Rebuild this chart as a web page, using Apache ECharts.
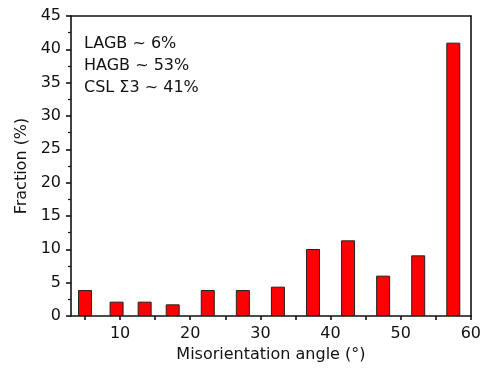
<!DOCTYPE html>
<html>
<head>
<meta charset="utf-8">
<script src="https://cdn.jsdelivr.net/npm/echarts@6/dist/echarts.min.js"></script>
<style>html,body{margin:0;padding:0;background:#fff;}#c{width:484px;height:372px;}</style>
</head>
<body>
<div id="c"></div>
<script>
const angles = [5, 9.5, 13.5, 17.5, 22.5, 27.5, 32.5, 37.5, 42.5, 47.5, 52.5, 57.5];
const fractions = [3.9, 2.15, 2.15, 1.75, 3.9, 3.9, 4.4, 10.05, 11.35, 6.05, 9.1, 41.0];
const xTickLabels = [10, 20, 30, 40, 50, 60];
const xTickMarks = [5, 10, 15, 20, 25, 30, 35, 40, 45, 50, 55, 60];
const annotations = ['LAGB ~ 6%', 'HAGB ~ 53%', 'CSL \u03A33 ~ 41%'];
const xName = 'Misorientation angle (\u00B0)';
const yName = 'Fraction (%)';

const FONT = 'DejaVu Sans';
const lineStyle = { color: '#111', width: 1.6 };
const chart = echarts.init(document.getElementById('c'));
chart.setOption({
  animation: false,
  backgroundColor: '#fff',
  grid: { left: 71, right: 10, top: 16, bottom: 56 },
  xAxis: [{
    type: 'value', min: 3, max: 60, position: 'bottom',
    name: xName, nameLocation: 'middle', nameGap: 22,
    nameTextStyle: { fontFamily: FONT, fontSize: 16, color: '#111' },
    axisLine: { show: true, onZero: false, lineStyle: lineStyle },
    axisTick: { show: true, inside: false, length: 4, customValues: xTickMarks, lineStyle: lineStyle },
    axisLabel: { show: true, margin: 10, customValues: xTickLabels, fontFamily: FONT, fontSize: 16, color: '#111' },
    splitLine: { show: false }
  }, {
    type: 'value', min: 3, max: 60, position: 'top',
    axisLine: { show: true, onZero: false, lineStyle: lineStyle },
    axisTick: { show: false }, axisLabel: { show: false }, splitLine: { show: false }
  }],
  yAxis: [{
    type: 'value', min: 0, max: 45, interval: 5, position: 'left',
    name: yName, nameLocation: 'middle', nameGap: 39,
    nameTextStyle: { fontFamily: FONT, fontSize: 16, color: '#111' },
    axisLine: { show: true, onZero: false, lineStyle: lineStyle },
    axisTick: { show: true, inside: false, length: 5, lineStyle: lineStyle },
    minorTick: { show: true, splitNumber: 2, length: 3, lineStyle: { color: '#111', width: 1.2 } },
    axisLabel: { margin: 10, fontFamily: FONT, fontSize: 16, color: '#111' },
    splitLine: { show: false }
  }, {
    type: 'value', min: 0, max: 45, interval: 5, position: 'right',
    axisLine: { show: true, onZero: false, lineStyle: lineStyle },
    axisTick: { show: false }, axisLabel: { show: false }, splitLine: { show: false }
  }],
  series: [{
    type: 'bar',
    xAxisIndex: 0, yAxisIndex: 0,
    barWidth: 14,
    data: angles.map((a, i) => [a, fractions[i]]),
    itemStyle: { color: '#ff0000', borderColor: '#222', borderWidth: 1 }
  }],
  graphic: annotations.map((t, i) => ({
    type: 'text',
    left: 84,
    top: 36 + i * 22,
    style: { text: t, fontFamily: FONT, fontSize: 16, fill: '#111' }
  }))
});
</script>
</body>
</html>
